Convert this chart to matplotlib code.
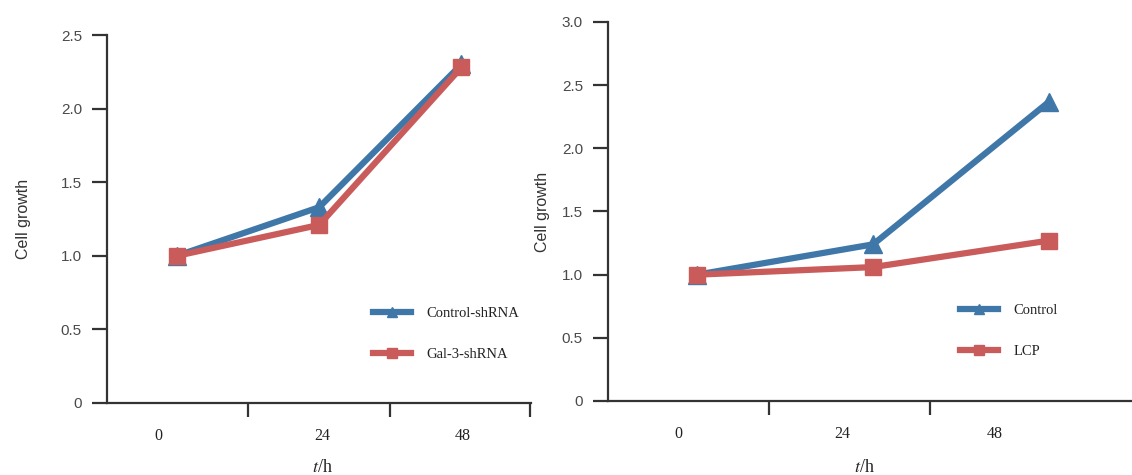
import matplotlib
matplotlib.use("Agg")
import matplotlib.pyplot as plt
from matplotlib.ticker import FixedLocator, NullFormatter

plt.rcParams["mathtext.fontset"] = "stix"

hours = ["0", "24", "48"]

left_control = [1.00, 1.33, 2.30]
left_gal3 = [1.00, 1.21, 2.28]
left_names = ["Control-shRNA", "Gal-3-shRNA"]
left_yticks = [0, 0.5, 1.0, 1.5, 2.0, 2.5]

right_control = [1.00, 1.24, 2.37]
right_lcp = [1.00, 1.06, 1.27]
right_names = ["Control", "LCP"]
right_yticks = [0, 0.5, 1.0, 1.5, 2.0, 2.5, 3.0]

BLUE = "#3f77a8"
RED = "#c95b5b"
AXC = "#333333"
SANS = "Liberation Sans"
SERIF = "Liberation Serif"

fig = plt.figure(figsize=(11.32, 4.75), dpi=100)
ax1 = fig.add_axes([0.0945, 0.1516, 0.3746, 0.7747])
ax2 = fig.add_axes([0.5371, 0.1558, 0.4629, 0.7979])


def style_panel(ax, control, other, names, yticks, ylim, xlim,
                label_pos, tick_pos, ylab_x, xlab_x, leg_anchor):
    x = range(len(hours))
    ax.plot(x, control, color=BLUE, lw=4.5, marker="^", ms=13,
            label=names[0], solid_joinstyle="miter")
    ax.plot(x, other, color=RED, lw=4.5, marker="s", ms=12,
            label=names[1], solid_joinstyle="miter")

    ax.set_xlim(*xlim)
    ax.set_ylim(*ylim)
    for s in ["top", "right"]:
        ax.spines[s].set_visible(False)
    for s in ["left", "bottom"]:
        ax.spines[s].set_linewidth(1.6)
        ax.spines[s].set_color(AXC)

    ax.set_yticks(yticks)
    ax.set_yticklabels(["0" if v == 0 else f"{v:.1f}" for v in yticks],
                       family=SANS, fontsize=11, color="#4a4a4a")
    ax.tick_params(axis="y", direction="out", length=11, width=1.6,
                   color=AXC, pad=7)

    ax.xaxis.set_major_locator(FixedLocator(label_pos))
    ax.set_xticklabels(hours, family=SERIF, fontsize=11.5, color="#222222")
    ax.xaxis.set_minor_locator(FixedLocator(tick_pos))
    ax.xaxis.set_minor_formatter(NullFormatter())
    ax.tick_params(axis="x", which="major", length=0, pad=18)
    ax.tick_params(axis="x", which="minor", direction="out", length=10,
                   width=1.6, color=AXC)

    ax.set_ylabel("Cell growth", family=SANS, fontsize=11.5, color="#333333")
    ax.yaxis.set_label_coords(ylab_x, 0.5)
    ax.set_xlabel("$t$/h", family=SERIF, fontsize=13, color="#222222")
    ax.xaxis.set_label_coords(xlab_x, -0.152)

    leg = ax.legend(loc="upper left", bbox_to_anchor=leg_anchor,
                    frameon=False, prop={"family": SERIF, "size": 10.5},
                    handlelength=2.6, handletextpad=1.1, labelspacing=1.9,
                    borderaxespad=0, borderpad=0, markerscale=0.6)
    for t in leg.get_texts():
        t.set_color("#222222")


style_panel(ax1, left_control, left_gal3, left_names, left_yticks,
            (0, 2.5), (-0.493, 2.49), [-0.13, 1.02, 2.01],
            [0.5, 1.5, 2.484], -0.178, 0.509, (0.627, 0.262))
style_panel(ax2, right_control, right_lcp, right_names, right_yticks,
            (0, 3.0), (-0.506, 2.47), [-0.108, 0.824, 1.693],
            [0.409, 1.324], -0.11, 0.49, (0.671, 0.256))

fig.savefig("out.png", dpi=100)
